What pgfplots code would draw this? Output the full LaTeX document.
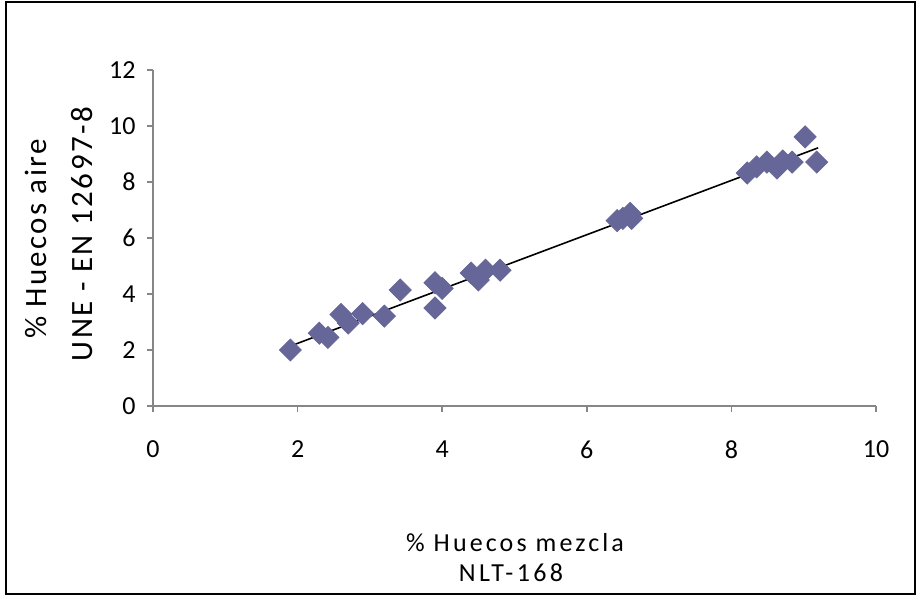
\documentclass[border=0pt]{standalone}
\usepackage{pgfplots}
\pgfplotsset{compat=1.18}
\usepackage{fontspec}
\setmainfont{Carlito}
\newfontfamily\lblfont[LetterSpace=12]{Carlito}
\newfontfamily\lblfontb[LetterSpace=13]{Carlito}
\newfontfamily\ylblfont[LetterSpace=7.5]{Carlito}
\newfontfamily\ylblfontb[LetterSpace=8]{Carlito}
\definecolor{pts}{RGB}{102,102,153}
\definecolor{axgray}{RGB}{134,134,134}
\begin{document}
\begin{tikzpicture}
\begin{axis}[
  at={(0,0)}, anchor=south west,
  scale only axis, width=361.5pt, height=168pt,
  xmin=0, xmax=10, ymin=0, ymax=12,
  xtick={0,2,4,6,8,10}, ytick={0,2,4,6,8,10,12},
  axis x line*=bottom, axis y line*=left,
  axis line style={axgray, line width=0.8pt, -},
  tick style={axgray, line width=0.8pt},
  tick align=outside, major tick length=3pt,
  /pgf/number format/assume math mode=true,
  tick label style={font=\fontsize{13}{15}\selectfont},
  xticklabel style={yshift=-11pt},
  yticklabel style={xshift=-2.2pt},
  clip=false,
]
\addplot[only marks, mark=square*, mark size=3.9pt, mark options={rotate=45, fill=pts, draw=pts}] coordinates {
(1.9,2.0) (2.3,2.6) (2.42,2.45) (2.6,3.27) (2.7,2.96) (2.9,3.3) (3.2,3.21)
(3.42,4.14) (3.9,4.4) (3.9,3.5) (4.0,4.2) (4.4,4.75) (4.5,4.5) (4.6,4.85)
(4.8,4.85) (6.42,6.62) (6.5,6.7) (6.6,6.88) (6.62,6.7)
(8.22,8.32) (8.35,8.54) (8.49,8.71) (8.63,8.5) (8.71,8.75) (8.84,8.71)
(9.02,9.61) (9.18,8.71)
};
\addplot[black, line width=0.8pt, no marks] coordinates {(1.9,2.14) (9.2,9.22)};
\end{axis}
\node[rotate=90, anchor=base, font=\ylblfont\fontsize{15.5}{18}\selectfont] at (-53pt,83.5pt) {\% Huecos aire};
\node[rotate=90, anchor=base, font=\ylblfontb\fontsize{15.5}{18}\selectfont] at (-30pt,86pt) {UNE - EN 12697-8};
\node[anchor=base, font=\lblfont\fontsize{13}{15}\selectfont] at (181pt,-73pt) {\% Huecos mezcla};
\node[anchor=base, font=\lblfontb\fontsize{13}{15}\selectfont] at (179pt,-88pt) {NLT-168};
\draw[black, line width=1pt] (-73.5pt,-94pt) rectangle (381pt,202pt);
\useasboundingbox (-76.5pt,-96pt) rectangle (382.5pt,203pt);
\end{tikzpicture}
\end{document}
